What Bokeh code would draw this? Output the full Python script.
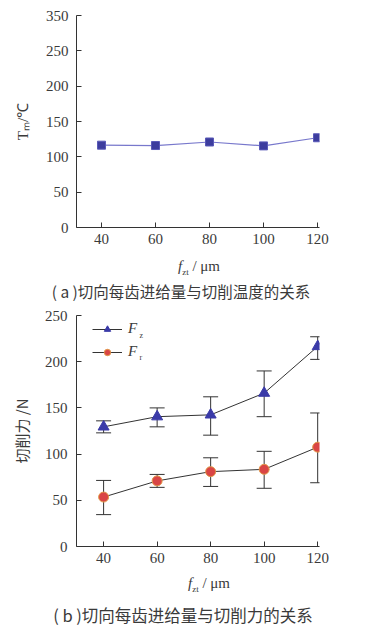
from bokeh.plotting import figure
from bokeh.layouts import column
from bokeh.models import (Range1d, FixedTicker, Label, Legend, LegendItem,
                          ColumnDataSource, Whisker, TeeHead, Div)
from bokeh.embed import file_html
from bokeh.resources import INLINE

# ---------------- data ----------------
feed = [40, 60, 80, 100, 120]                  # f_zt / um
temp = [116.5, 116, 121, 115.5, 127]           # T_m / degC
fz = [129.5, 140.5, 142.5, 166, 216.5]
fz_hi = [136, 150, 162, 190, 227]
fz_lo = [123, 129.5, 120.5, 140.5, 202.5]
fr = [53.5, 71, 81, 83.5, 107.5]
fr_hi = [71.5, 78, 96, 103, 144.5]
fr_lo = [34.5, 64, 65, 63, 69]
x_ticks = [40, 60, 80, 100, 120]
a_y_ticks = [0, 50, 100, 150, 200, 250, 300]
a_y_labels = ["0", "50", "100", "150", "200", "250", "350"]
b_y_ticks = [0, 50, 100, 150, 200, 250]

SERIF = "Liberation Serif"
CJK = "Noto Sans CJK SC"
TXT = "#3a3a3a"
W = 372


def style(p):
    p.grid.visible = False
    p.outline_line_color = None
    p.background_fill_color = None
    p.border_fill_color = None
    for ax in (p.xaxis[0], p.yaxis[0]):
        ax.axis_line_color = "#333333"
        ax.major_tick_line_color = "#333333"
        ax.major_tick_in = 5
        ax.major_tick_out = 0
        ax.minor_tick_line_color = None
        ax.major_label_text_font = SERIF
        ax.major_label_text_font_size = "15px"
        ax.major_label_text_color = TXT
        ax.axis_label_text_color = TXT
        ax.axis_label_text_font_style = "normal"
    p.xaxis.ticker = FixedTicker(ticks=x_ticks)
    p.xaxis.major_label_standoff = 6
    p.yaxis.major_label_standoff = 8


def text_div(html, height, shift, font, size):
    pad = ("padding-left:%dpx;" % (2 * shift)) if shift >= 0 else ("padding-right:%dpx;" % (-2 * shift))
    inner = ('<div style="width:%dpx;height:%dpx;line-height:%dpx;text-align:center;'
             'box-sizing:border-box;%sfont-family:\'%s\';font-size:%s;color:%s;'
             'white-space:nowrap">%s</div>' % (W, height, height, pad, font, size, TXT, html))
    return Div(text=inner, width=W, height=height, margin=0)


xlabel_html = '<i>f</i><sub style="font-size:9px;line-height:0">zt</sub> / μm'

# ---------------- figure (a) ----------------
pa = figure(width=W, height=252, output_backend="svg", toolbar_location=None,
            x_range=Range1d(30.74, 120.74), y_range=Range1d(0, 300),
            min_border_left=76, min_border_right=53, min_border_top=15,
            min_border_bottom=25)
style(pa)
pa.yaxis.ticker = FixedTicker(ticks=a_y_ticks)
pa.yaxis.major_label_overrides = {t: s for t, s in zip(a_y_ticks, a_y_labels)}
pa.yaxis.axis_label = "Tₘ/℃"
pa.yaxis.axis_label_text_font = SERIF
pa.yaxis.axis_label_text_font_size = "15px"
pa.yaxis.axis_label_standoff = 12
pa.line(feed, temp, line_color="#7878cc", line_width=1.2)
pa.scatter(feed, temp, marker="square", size=8, fill_color="#3d3d9e",
           line_color="#5a5ab8")

xla = text_div(xlabel_html, 28, 13, SERIF, "15px")
cap_a = text_div("( a )切向每齿进给量与切削温度的关系", 22, -5, CJK, "15.5px")

# ---------------- figure (b) ----------------
pb = figure(width=W, height=264, output_backend="svg", toolbar_location=None,
            x_range=Range1d(29.87, 120.68), y_range=Range1d(0, 250),
            min_border_left=74, min_border_right=29, min_border_top=13,
            min_border_bottom=20)
style(pb)
pb.yaxis.ticker = FixedTicker(ticks=b_y_ticks)
pb.yaxis.major_label_standoff = 9
pb.yaxis.axis_label = "切削力 /N"
pb.yaxis.axis_label_text_font = CJK
pb.yaxis.axis_label_text_font_size = "15px"
pb.yaxis.axis_label_standoff = 10

src = ColumnDataSource(dict(x=feed, fz=fz, fz_hi=fz_hi, fz_lo=fz_lo,
                            fr=fr, fr_hi=fr_hi, fr_lo=fr_lo))
for lo, hi in (("fz_lo", "fz_hi"), ("fr_lo", "fr_hi")):
    pb.add_layout(Whisker(source=src, base="x", lower=lo, upper=hi,
                          line_color="#333333", line_width=1,
                          upper_head=TeeHead(size=15, line_color="#333333", line_width=1),
                          lower_head=TeeHead(size=15, line_color="#333333", line_width=1)))

l1 = pb.line("x", "fz", source=src, line_color="#333333", line_width=1)
m1 = pb.scatter("x", "fz", source=src, marker="triangle", size=11,
                fill_color="#3a3aa8", line_color="#3a3aa8")
l2 = pb.line("x", "fr", source=src, line_color="#333333", line_width=1)
m2 = pb.scatter("x", "fr", source=src, marker="circle", size=10,
                fill_color="#d94545", line_color="#e39a4a")

leg = Legend(items=[LegendItem(label="F", renderers=[l1, m1]),
                    LegendItem(label="F", renderers=[l2, m2])],
             location=(16, 186), padding=0, margin=0, spacing=6,
             glyph_width=30, glyph_height=16, label_height=16,
             label_standoff=6, border_line_color=None,
             background_fill_alpha=0, label_text_font=SERIF,
             label_text_font_style="italic", label_text_font_size="15px",
             label_text_color=TXT)
pb.add_layout(leg)
for yy, sub in ((211, "z"), (189, "r")):
    pb.add_layout(Label(x=63, y=yy, x_units="screen", y_units="screen",
                        text=sub, text_font=SERIF, text_font_size="8px",
                        text_color=TXT, text_baseline="middle"))

xlb = text_div(xlabel_html, 34, 23, SERIF, "15px")
cap_b = text_div("( b )切向每齿进给量与切削力的关系", 31, -3, CJK, "16.5px")

page = column(pa, xla, cap_a, pb, xlb, cap_b, spacing=0)
open("out.html", "w").write(file_html(page, INLINE))
